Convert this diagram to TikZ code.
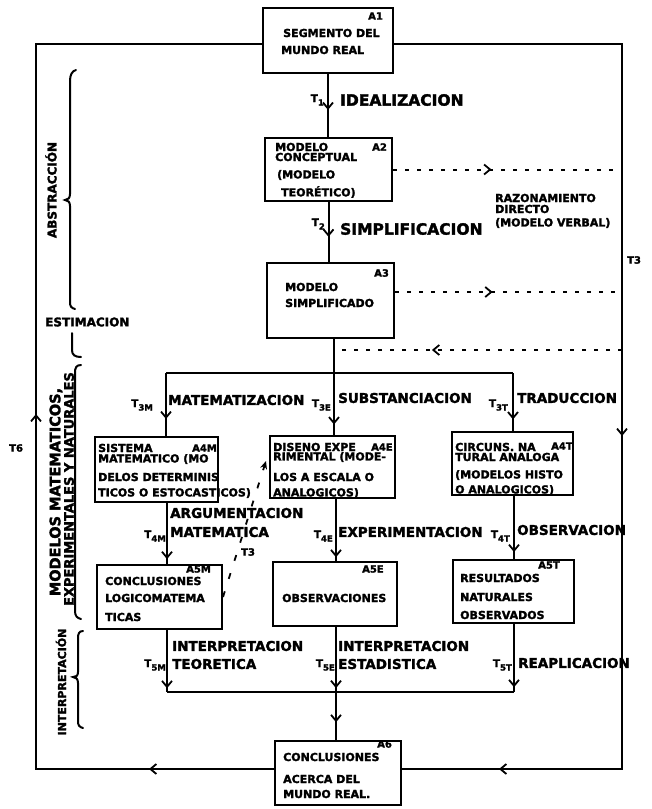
\documentclass[tikz,border=0pt]{standalone}
\usepackage{fontspec}
\usetikzlibrary{arrows.meta,decorations.markings,calc}
\newfontfamily\lett{DejaVu Sans}[BoldFeatures={FakeBold=2}]
% T with a lowered index, as in the hand lettering
\newcommand\Tsub[1]{T\raisebox{-3.5pt}{\fontsize{8.5}{8.5}\selectfont #1}}

\tikzset{
  barb/.tip={Straight Barb[length=6pt,width=10pt,line width=1.8pt]},
  conn/.style={line width=2pt},
  boxst/.style={draw, line width=2pt, inner sep=0pt, rectangle},
  dots/.style={line width=2pt, dash pattern=on 4pt off 8pt},
  midarrow/.style={postaction={decorate,decoration={markings,
      mark=at position #1 with {\arrow{barb}}}}},
  btxt/.style={font=\lett\bfseries\fontsize{11}{11}\selectfont, anchor=west, inner sep=0pt},
  ctxt/.style={font=\lett\bfseries\fontsize{10}{10}\selectfont, anchor=west, inner sep=0pt},
  bigl/.style={font=\lett\bfseries\fontsize{15.5}{15.5}\selectfont, anchor=west, inner sep=0pt},
  lowl/.style={font=\lett\bfseries\fontsize{13.5}{13.5}\selectfont, anchor=west, inner sep=0pt},
  tl/.style={font=\lett\bfseries\fontsize{10.5}{10.5}\selectfont, anchor=east, inner sep=0pt},
  side/.style={font=\lett\bfseries\fontsize{12}{12}\selectfont, inner sep=0pt},
  brace/.style={line width=2pt, line cap=round},
}

\begin{document}
\begin{tikzpicture}[x=1pt,y=-1pt]
\useasboundingbox (0,0) rectangle (652,809);
\fill[white] (0,0) rectangle (652,809);

% ---- boxes ----
\node[boxst, minimum width=130pt, minimum height=65pt] (A1) at (328,40.5) {};
\node[boxst, minimum width=127pt, minimum height=63pt] (A2) at (328.5,169.5) {};
\node[boxst, minimum width=127pt, minimum height=75pt] (A3) at (330.5,300.5) {};
\node[boxst, minimum width=123pt, minimum height=65pt] (A4M) at (156.5,469.5) {};
\node[boxst, minimum width=125pt, minimum height=62pt] (A4E) at (332.5,467) {};
\node[boxst, minimum width=121pt, minimum height=63pt] (A4T) at (512.5,463.5) {};
\node[boxst, minimum width=125pt, minimum height=64pt] (A5M) at (159.5,597) {};
\node[boxst, minimum width=124pt, minimum height=64pt] (A5E) at (335,594) {};
\node[boxst, minimum width=121pt, minimum height=63pt] (A5T) at (513.5,591.5) {};
\node[boxst, minimum width=126pt, minimum height=64pt] (A6) at (338,773) {};

% ---- box texts ----
\node[btxt] (a1a) at (283,33) {SEGMENTO DEL};
\node[btxt] (a1b) at (281,50) {MUNDO REAL};
\node[ctxt] (a1c) at (368,16) {A1};

\node[btxt] (a2a) at (275,147) {MODELO};
\node[btxt] (a2b) at (275,157) {CONCEPTUAL};
\node[btxt] (a2c) at (277,175) {(MODELO};
\node[btxt] (a2d) at (281,192) {TEORÉTICO)};
\node[ctxt] (a2e) at (372,147) {A2};

\node[btxt] (a3a) at (285,287) {MODELO};
\node[btxt] (a3b) at (285,303) {SIMPLIFICADO};
\node[ctxt] (a3c) at (374,273) {A3};

\node[btxt] (m4a) at (98,448) {SISTEMA};
\node[ctxt] (m4b) at (192,448) {A4M};
\node[btxt] (m4c) at (98,459) {MATEMATICO (MO};
\node[btxt] (m4d) at (98,477) {DELOS DETERMINIS};
\node[btxt] (m4e) at (98,493) {TICOS O ESTOCASTICOS)};

\node[btxt] (e4a) at (273,447) {DISENO EXPE};
\node[ctxt] (e4b) at (371,447) {A4E};
\node[btxt] (e4c) at (273,457) {RIMENTAL (MODE-};
\node[btxt] (e4d) at (273,477) {LOS A ESCALA O};
\node[btxt] (e4e) at (273,493) {ANALOGICOS)};

\node[btxt] (t4a) at (455,447) {CIRCUNS. NA};
\node[ctxt] (t4b) at (551,446) {A4T};
\node[btxt] (t4c) at (455,457) {TURAL ANALOGA};
\node[btxt] (t4d) at (455,475) {(MODELOS HISTO};
\node[btxt] (t4e) at (455,490) {O ANALOGICOS)};

\node[ctxt] (m5a) at (186,569) {A5M};
\node[btxt] (m5b) at (105,581) {CONCLUSIONES};
\node[btxt] (m5c) at (105,598) {LOGICOMATEMA};
\node[btxt] (m5d) at (105,617) {TICAS};

\node[ctxt] (e5a) at (362,569) {A5E};
\node[btxt] (e5b) at (282,598) {OBSERVACIONES};

\node[ctxt] (t5a) at (538,565) {A5T};
\node[btxt] (t5b) at (460,578) {RESULTADOS};
\node[btxt] (t5c) at (460,597) {NATURALES};
\node[btxt] (t5d) at (460,615) {OBSERVADOS};

\node[ctxt] (a6a) at (377,744) {A6};
\node[btxt] (a6b) at (283,757) {CONCLUSIONES};
\node[btxt] (a6c) at (283,779) {ACERCA DEL};
\node[btxt] (a6d) at (283,794) {MUNDO REAL.};

% ---- outer feedback loop ----
\coordinate (tl) at (36,44);
\coordinate (tr) at (622,44);
\coordinate (bl) at (36,769);
\coordinate (br) at (622,769);
\draw[conn, line join=miter, postaction={decorate,decoration={markings,
    mark=at position 125pt with {\arrow{barb}},
    mark=at position 593pt with {\arrow{barb}}}}]
  (A6.west |- bl) -- (bl) -- (tl) -- (A1.west |- tl);
\draw[conn, line join=miter, postaction={decorate,decoration={markings,
    mark=at position 620pt with {\arrow{barb}},
    mark=at position 1076pt with {\arrow{barb}}}}]
  (A1.east |- tr) -- (tr) -- (br) -- (A6.east |- br);
\node[ctxt] (t3lab) at (627,260) {T3};
\node[ctxt] (t6lab) at (9,448) {T6};

% ---- main spine ----
\draw[conn, midarrow=0.57] (A1.south) -- (A1.south |- A2.north);
\draw[conn, midarrow=0.58] (A2.south) -- (A2.south |- A3.north);
\node[bigl] (lid) at (340,100) {IDEALIZACION};
\node[tl] (t1) at (324,100) {\Tsub{1}};
\node[bigl] (lsi) at (340,229) {SIMPLIFICACION};
\node[tl] (t2) at (325,224) {\Tsub{2}};

% ---- direct reasoning (dotted) ----
\coordinate (r2) at (622,169.5);
\coordinate (r3) at (622,292);
\coordinate (rb) at (622,350);
\coordinate (sb) at (334,350);
\draw[dots, midarrow=0.43] (A2.east) -- (r2);
\draw[dots, midarrow=0.43] (A3.east |- r3) -- (r3);
\draw[dots, midarrow=0.66] (rb) -- (sb);
\node[btxt] (rz1) at (495,198) {RAZONAMIENTO};
\node[btxt] (rz2) at (495,209) {DIRECTO};
\node[btxt] (rz3) at (495,223) {(MODELO VERBAL)};

% ---- distribution to the three branches ----
\coordinate (dM) at (166,373);
\coordinate (dE) at (334,373);
\coordinate (dT) at (513,373);
\draw[conn] (dE |- A3.south) -- (dE);
\draw[conn] (dM) -- (dT);
\draw[conn, midarrow=0.73] (dM) -- (dM |- A4M.north);
\draw[conn, midarrow=0.83] (dE) -- (dE |- A4E.north);
\draw[conn, midarrow=0.80] (dT) -- (dT |- A4T.north);
\node[lowl] (lmat) at (168,400) {MATEMATIZACION};
\node[tl] (t3m) at (153,405) {\Tsub{3M}};
\node[lowl] (lsub) at (338,398) {SUBSTANCIACION};
\node[tl] (t3e) at (331,405) {\Tsub{3E}};
\node[lowl] (ltra) at (517,398) {TRADUCCION};
\node[tl] (t3t) at (508,405) {\Tsub{3T}};

% ---- second step ----
\coordinate (cM) at (167,692);
\coordinate (cE) at (336,692);
\coordinate (cT) at (514,692);
\draw[conn, midarrow=0.92] (cM |- A4M.south) -- (cM |- A5M.north);
\draw[conn, midarrow=0.94] (cE |- A4E.south) -- (cE |- A5E.north);
\draw[conn, midarrow=0.89] (cT |- A4T.south) -- (cT |- A5T.north);
\node[lowl] (larg1) at (170,513) {ARGUMENTACION};
\node[lowl] (larg2) at (170,532) {MATEMATICA};
\node[tl] (t4m) at (166,536) {\Tsub{4M}};
\node[lowl] (lexp) at (338,532) {EXPERIMENTACION};
\node[tl] (t4e) at (333,536) {\Tsub{4E}};
\node[lowl] (lobs) at (517,530) {OBSERVACION};
\node[tl] (t4t) at (510,536) {\Tsub{4T}};

% T3 shortcut from the logical conclusions to the experimental design
\coordinate (t3tip) at (266,461);
\draw[line width=1.8pt, dash pattern=on 6pt off 13pt, -{Stealth[length=8pt,width=7pt]}]
  (A5M.east) -- (t3tip);
\node[ctxt] (t3d) at (241,552) {T3};

% ---- interpretation, collected into the conclusions ----
\draw[conn, midarrow=0.94] (cM |- A5M.south) -- (cM);
\draw[conn, midarrow=0.94] (cE |- A5E.south) -- (cE);
\draw[conn, midarrow=0.93] (cT |- A5T.south) -- (cT);
\draw[conn] (cM) -- (cT);
\draw[conn, midarrow=0.63] (cE) -- (cE |- A6.north);
\node[lowl] (lint1) at (172,646) {INTERPRETACION};
\node[lowl] (lint2) at (172,664) {TEORETICA};
\node[tl] (t5m) at (166,665) {\Tsub{5M}};
\node[lowl] (lint3) at (338,646) {INTERPRETACION};
\node[lowl] (lint4) at (338,664) {ESTADISTICA};
\node[tl] (t5e) at (335,665) {\Tsub{5E}};
\node[lowl] (lrea) at (518,663) {REAPLICACION};
\node[tl] (t5t) at (512,665) {\Tsub{5T}};

% ---- phase braces on the left ----
\draw[brace] (76,70) .. controls (72,71) and (70,75) .. (70,81) -- (70,194)
  .. controls (70,198) and (68,200) .. (65,200)
  .. controls (68,200) and (70,202) .. (70,206) -- (70,302)
  .. controls (70,306) and (71,308) .. (75,309);
\draw[brace] (72,333) -- (72,350) .. controls (72,355) and (75,357) .. (81,357);
\draw[brace] (81,365) .. controls (76,365) and (75,368) .. (75,373) -- (75,611)
  .. controls (75,616) and (77,618) .. (81,619);
\draw[brace] (83,631) .. controls (79,631) and (78,634) .. (78,638) -- (78,672)
  .. controls (78,676) and (76,677) .. (73,677)
  .. controls (76,677) and (78,679) .. (78,683) -- (78,721)
  .. controls (78,725) and (79,727) .. (83,728);

\node[side, rotate=90] (abst) at (51,190) {ABSTRACCIÓN};
\node[side, anchor=west] (estim) at (45,322) {ESTIMACION};
\node[inner sep=0pt, rotate=90, font=\lett\bfseries\fontsize{14.5}{14.5}\selectfont] (mod1) at (56,492) {MODELOS MATEMATICOS,};
\node[inner sep=0pt, rotate=90, font=\lett\bfseries\fontsize{13}{13}\selectfont] (mod2) at (69,489) {EXPERIMENTALES Y NATURALES};
\node[inner sep=0pt, rotate=90, font=\lett\bfseries\fontsize{11}{11}\selectfont] (interp) at (61,682) {INTERPRETACIÓN};
\end{tikzpicture}
\end{document}
